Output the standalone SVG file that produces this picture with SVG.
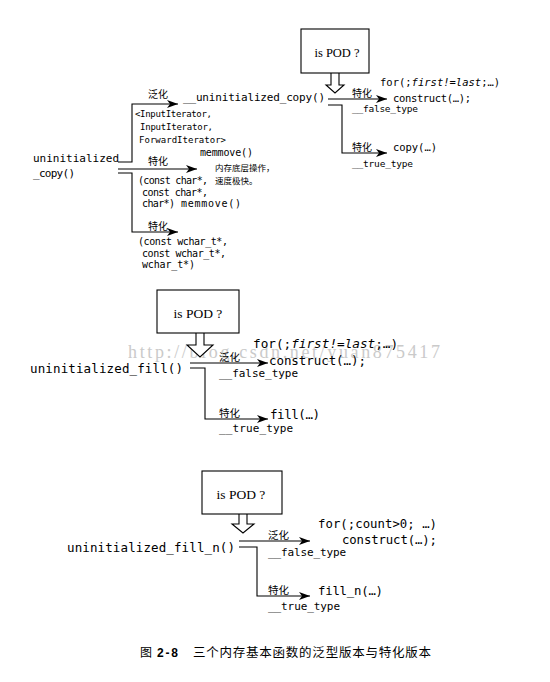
<svg xmlns="http://www.w3.org/2000/svg" width="550" height="682" viewBox="0 0 550 682">
<style>
.c{font-family:"DejaVu Sans Mono","Liberation Mono",monospace;fill:#000}
.cj{font-family:"Noto Sans CJK SC","Noto Sans",sans-serif;fill:#000}
.s{font-family:"Liberation Serif","DejaVu Serif",serif;fill:#000;text-anchor:middle}
.ln{fill:none;stroke:#000;stroke-width:1.1}
.box{fill:#fff;stroke:#000;stroke-width:1.1}
.wm{font-family:"Liberation Serif","DejaVu Serif",serif;fill:#bdbdbd;opacity:0.8}
</style>
<defs>
<marker id="ah" viewBox="0 0 11 8" refX="11" refY="4" markerWidth="11" markerHeight="8" markerUnits="userSpaceOnUse" orient="auto">
<path d="M0,0 L11,4 L0,8 L3,4 Z" fill="#000"/>
</marker>
</defs>
<rect width="550" height="682" fill="#fff"/>

<!-- watermark -->
<text class="wm" x="128" y="358" font-size="18" textLength="312">http://blog.csdn.net/yuan875417</text>

<!-- connectors -->
<g id="connectors">
<path class="ln" d="M118,162 H132 V104 H178" marker-end="url(#ah)"/>
<path class="ln" d="M118,169 H197" marker-end="url(#ah)"/>
<path class="ln" d="M118,173 H132 V232 H178" marker-end="url(#ah)"/>
<path class="ln" d="M328,99 H387" marker-end="url(#ah)"/>
<path class="ln" d="M328,105 H342 V153 H387" marker-end="url(#ah)"/>
<path class="ln" d="M190,363 H268" marker-end="url(#ah)"/>
<path class="ln" d="M190,368 H205 V419 H268" marker-end="url(#ah)"/>
<path class="ln" d="M239,541 H310" marker-end="url(#ah)"/>
<path class="ln" d="M239,547 H257 V596 H310" marker-end="url(#ah)"/>
<path class="box" d="M331,73 V85 H326 L335,93 L344,85 H339 V73"/>
<path class="box" d="M196,333 V345 H187 L200,357 L213,345 H204 V333"/>
<path class="box" d="M239,514 V524 H232 L243,533 L254,524 H247 V514"/>
</g>

<!-- Section 1 -->
<g id="uninitialized_copy">
<text class="c" x="33" y="162" font-size="11" textLength="86">uninitialized</text>
<text class="c" x="33" y="177" font-size="11" textLength="42">_copy()</text>
</g>
<g id="generic_copy">
<text class="cj" x="148" y="98" font-size="10">泛化</text>
<text class="c" x="183" y="101" font-size="11" textLength="142">__uninitialized_copy()</text>
<text class="c" x="135" y="117" font-size="9" textLength="77">&lt;InputIterator,</text>
<text class="c" x="140" y="130" font-size="9" textLength="73">InputIterator,</text>
<text class="c" x="139" y="143" font-size="9" textLength="87">ForwardIterator&gt;</text>
<text class="c" x="200" y="156" font-size="10" textLength="53">memmove()</text>
</g>
<g id="char_copy">
<text class="cj" x="148" y="165" font-size="10">特化</text>
<text class="cj" x="215" y="171" font-size="8.5">内存底层操作，</text>
<text class="cj" x="215" y="184" font-size="8.5">速度极快。</text>
<text class="c" x="138" y="184" font-size="10" textLength="70">(const char*,</text>
<text class="c" x="142" y="195.5" font-size="10" textLength="66">const char*,</text>
<text class="c" x="142" y="207" font-size="10" textLength="33">char*)</text>
<text class="c" x="181" y="207" font-size="10" textLength="60">memmove()</text>
</g>
<g id="wchar_copy">
<text class="cj" x="148" y="230" font-size="10">特化</text>
<text class="c" x="138" y="245" font-size="10" textLength="90">(const wchar_t*,</text>
<text class="c" x="142" y="256.5" font-size="10" textLength="84">const wchar_t*,</text>
<text class="c" x="142" y="268" font-size="10" textLength="53">wchar_t*)</text>
</g>
<g id="pod1">
<rect class="box" x="301" y="29" width="68" height="44"/>
<text class="s" x="337" y="57" font-size="12.5">is POD ?</text>
</g>
<g id="false1">
<text class="cj" x="352" y="97" font-size="10">特化</text>
<text class="c" x="380" y="86" font-size="10.5">for(;<tspan font-style="italic">first!=last</tspan>;…)</text>
<text class="c" x="393" y="102" font-size="10.5" textLength="78">construct(…);</text>
<text class="c" x="352" y="112" font-size="9.5" textLength="66">__false_type</text>
</g>
<g id="true1">
<text class="cj" x="352" y="151" font-size="10">特化</text>
<text class="c" x="393" y="151" font-size="10.5" textLength="44">copy(…)</text>
<text class="c" x="352" y="167" font-size="9.5" textLength="61">__true_type</text>
</g>

<!-- Section 2 -->
<g id="pod2">
<rect class="box" x="157" y="290" width="82" height="43"/>
<text class="s" x="198" y="318" font-size="13.5">is POD ?</text>
</g>
<g id="uninitialized_fill">
<text class="c" x="30" y="373" font-size="12.5" textLength="153">uninitialized_fill()</text>
</g>
<g id="false2">
<text class="cj" x="219" y="361" font-size="10.5">泛化</text>
<text class="c" x="253" y="348" font-size="12.7">for(;<tspan font-style="italic">first!=last</tspan>;…)</text>
<text class="c" x="269" y="365" font-size="12.5" textLength="97">construct(…);</text>
<text class="c" x="219" y="377" font-size="11" textLength="79">__false_type</text>
</g>
<g id="true2">
<text class="cj" x="219" y="417" font-size="10.5">特化</text>
<text class="c" x="270" y="419" font-size="12.5" textLength="50">fill(…)</text>
<text class="c" x="219" y="432" font-size="11" textLength="74">__true_type</text>
</g>

<!-- Section 3 -->
<g id="pod3">
<rect class="box" x="202" y="471" width="80" height="43"/>
<text class="s" x="241" y="499" font-size="13.5">is POD ?</text>
</g>
<g id="uninitialized_fill_n">
<text class="c" x="67" y="552" font-size="12.5" textLength="168">uninitialized_fill_n()</text>
</g>
<g id="false3">
<text class="cj" x="268" y="539" font-size="10.5">泛化</text>
<text class="c" x="318" y="528" font-size="12.3" textLength="119">for(;count&gt;0; …)</text>
<text class="c" x="342" y="544" font-size="12.3" textLength="95">construct(…);</text>
<text class="c" x="268" y="556" font-size="11" textLength="78">__false_type</text>
</g>
<g id="true3">
<text class="cj" x="268" y="594" font-size="10.5">特化</text>
<text class="c" x="318" y="595" font-size="12.3" textLength="65">fill_n(…)</text>
<text class="c" x="268" y="610" font-size="11" textLength="72">__true_type</text>
</g>

<!-- Caption -->
<g id="caption">
<text class="cj" x="140" y="657" font-size="12">图</text>
<text x="157" y="657" font-size="12" font-weight="bold" font-family="Liberation Sans, Arial, sans-serif" textLength="21">2-8</text>
<text class="cj" x="193" y="657" font-size="12.5" textLength="238">三个内存基本函数的泛型版本与特化版本</text>
</g>
</svg>
